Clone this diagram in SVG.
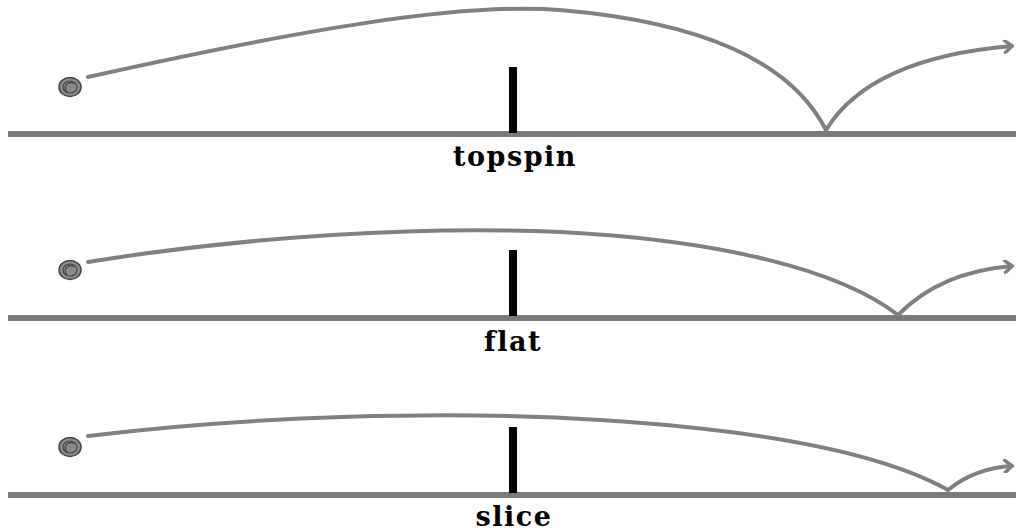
<svg xmlns="http://www.w3.org/2000/svg" width="1016" height="532" viewBox="0 0 1016 532">
<style>
.ground{stroke:#7a7a7a;stroke-width:6}
.net{fill:#000}
.path{fill:none;stroke:#808080;stroke-width:4;stroke-linecap:round}
.ball{fill:#8c8c8c;stroke:#444;stroke-width:1.5}
.seam{fill:none;stroke:#444;stroke-width:1.2}
.lbl{font-family:"DejaVu Serif",serif;font-weight:bold;font-size:27px;text-anchor:middle;letter-spacing:1.5px;fill:#000}
</style>
<defs>
<marker id="arr" markerWidth="14" markerHeight="14" refX="10" refY="7" orient="auto" markerUnits="userSpaceOnUse">
<path d="M3,1 L10,7 L3,13" fill="none" stroke="#808080" stroke-width="3.5" stroke-linecap="round" stroke-linejoin="round"/>
</marker>
<g id="ballsym">
<ellipse rx="11" ry="9.5" class="ball"/>
<ellipse rx="7" ry="6" class="seam"/>
<path d="M-3,5 A5,5 0 0 1 4,-3" class="seam"/>
</g>
</defs>
<g id="topspin">
<line x1="8" y1="134" x2="1016" y2="134" class="ground"/>
<rect x="509" y="67" width="8" height="66" class="net"/>
<use href="#ballsym" x="70" y="87"/>
<text x="515" y="166" class="lbl">topspin</text>
</g>
<g id="flat">
<line x1="8" y1="318" x2="1016" y2="318" class="ground"/>
<rect x="509" y="250" width="8" height="66" class="net"/>
<use href="#ballsym" x="70" y="270"/>
<text x="513" y="351" class="lbl">flat</text>
</g>
<g id="slice">
<line x1="8" y1="495" x2="1016" y2="495" class="ground"/>
<rect x="509" y="427" width="8" height="66" class="net"/>
<use href="#ballsym" x="70" y="447"/>
<text x="514" y="526" class="lbl">slice</text>
</g>
<g id="connectors">
<path class="path" d="M88,77 C300,30 460,2 560,10 C700,22 790,60 826,130"/>
<path class="path" d="M826,130 Q870,58 1012,46" marker-end="url(#arr)"/>
<path class="path" d="M88,262 C250,236 420,226 560,232 C720,240 840,270 898,315"/>
<path class="path" d="M898,315 Q940,272 1012,266" marker-end="url(#arr)"/>
<path class="path" d="M88,436 C250,416 450,410 600,420 C760,430 880,452 948,490"/>
<path class="path" d="M948,490 Q975,468 1012,466" marker-end="url(#arr)"/>
</g>
</svg>
